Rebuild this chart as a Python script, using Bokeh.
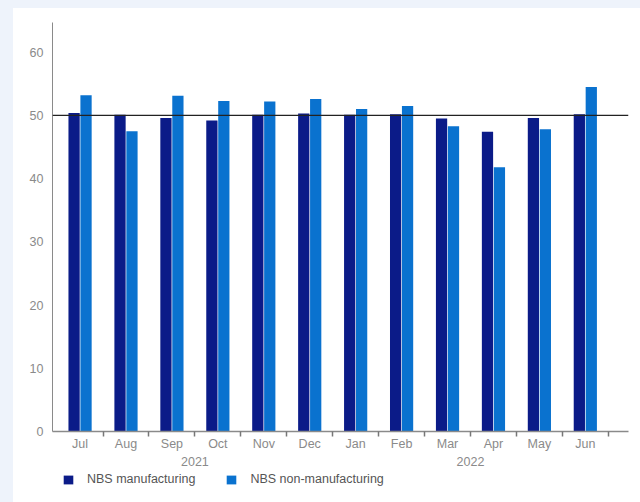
from bokeh.plotting import figure
from bokeh.layouts import column
from bokeh.models import Range1d, FixedTicker, LinearAxis, Span, Legend, LegendItem, ColumnDataSource
from bokeh.embed import file_html
from bokeh.resources import INLINE

months = ["Jul", "Aug", "Sep", "Oct", "Nov", "Dec", "Jan", "Feb", "Mar", "Apr", "May", "Jun"]
years = ["2021", "2022"]
year_centers = [2.5, 8.5]
manufacturing = [50.4, 50.1, 49.6, 49.2, 50.1, 50.3, 50.1, 50.2, 49.5, 47.4, 49.6, 50.2]
non_manufacturing = [53.2, 47.5, 53.1, 52.3, 52.2, 52.6, 51.0, 51.5, 48.3, 41.8, 47.8, 54.5]
series_names = ["NBS manufacturing", "NBS non-manufacturing"]
y_ticks = [0, 10, 20, 30, 40, 50, 60]
threshold = 50

FONT = "Liberation Sans"
DARK = "#0b1b88"
LIGHT = "#0a72cf"

idx = list(range(len(months)))
src = ColumnDataSource(dict(
    x_m=[i - 0.13 for i in idx],
    x_n=[i + 0.13 for i in idx],
    m=manufacturing,
    n=non_manufacturing,
))

p = figure(width=627, height=460,
           x_range=Range1d(-0.6, 11.94), y_range=Range1d(0, 64.7),
           output_backend="svg", toolbar_location=None,
           x_axis_location=None, y_axis_location=None,
           min_border_left=39, min_border_right=12,
           min_border_top=14, min_border_bottom=37)
p.outline_line_color = None
p.grid.visible = False
p.background_fill_color = "white"
p.border_fill_color = "white"
p.styles = {"background-color": "white"}

r1 = p.vbar(x="x_m", top="m", width=0.245, source=src, fill_color=DARK, line_color=None)
r2 = p.vbar(x="x_n", top="n", width=0.245, source=src, fill_color=LIGHT, line_color=None)

p.add_layout(Span(location=threshold, dimension="width", line_color="#222222", line_width=1.3))

yaxis = LinearAxis(ticker=FixedTicker(ticks=y_ticks))
yaxis.major_tick_out = 0
yaxis.major_tick_in = 0
yaxis.minor_tick_line_color = None
yaxis.axis_line_color = "#8a8a8a"
yaxis.major_label_standoff = 9
yaxis.major_label_text_color = "#8a8a8a"
yaxis.major_label_text_font = FONT
yaxis.major_label_text_font_size = "12.5px"
p.add_layout(yaxis, "left")

xaxis = LinearAxis(ticker=FixedTicker(ticks=idx, minor_ticks=[i + 0.5 for i in idx]))
xaxis.major_label_overrides = {i: m for i, m in zip(idx, months)}
xaxis.major_tick_out = 0
xaxis.major_tick_in = 0
xaxis.minor_tick_out = 5
xaxis.minor_tick_in = 0
xaxis.minor_tick_line_color = "#777777"
xaxis.minor_tick_line_width = 1.5
xaxis.axis_line_color = "#8a8a8a"
xaxis.axis_line_width = 1.5
xaxis.major_label_standoff = 0
xaxis.major_label_text_color = "#8a8a8a"
xaxis.major_label_text_font = FONT
xaxis.major_label_text_font_size = "12.5px"
p.add_layout(xaxis, "below")

yr = LinearAxis(ticker=FixedTicker(ticks=year_centers))
yr.major_label_overrides = {c: y for c, y in zip(year_centers, years)}
yr.axis_line_color = None
yr.major_tick_line_color = None
yr.minor_tick_line_color = None
yr.major_tick_out = 0
yr.major_tick_in = 0
yr.major_label_standoff = 3
yr.major_label_text_color = "#8a8a8a"
yr.major_label_text_font = FONT
yr.major_label_text_font_size = "12.5px"
p.add_layout(yr, "below")

# legend strip (frame aligned with the chart's frame by the column layout)
lg = figure(width=627, height=34, x_range=Range1d(0, 1), y_range=Range1d(0, 1),
            output_backend="svg", toolbar_location=None,
            x_axis_location=None, y_axis_location=None,
            min_border_left=39, min_border_right=12, min_border_top=0, min_border_bottom=0)
lg.outline_line_color = None
lg.grid.visible = False
lg.background_fill_color = "white"
lg.border_fill_color = "white"
lg.styles = {"background-color": "white"}
# zero-height placeholder bars: invisible, only give the legend its swatches
dummy = ColumnDataSource(dict(x=[0.5], top=[0]))
d1 = lg.vbar(x="x", top="top", bottom=0, width=0.01, source=dummy, fill_color=DARK, line_color=None)
d2 = lg.vbar(x="x", top="top", bottom=0, width=0.01, source=dummy, fill_color=LIGHT, line_color=None)

legend = Legend(items=[LegendItem(label=series_names[0], renderers=[d1]),
                       LegendItem(label=series_names[1], renderers=[d2])],
                orientation="horizontal", location=(10, 16))
legend.border_line_color = None
legend.background_fill_alpha = 0
legend.margin = 0
legend.padding = 4
legend.glyph_width = 12
legend.glyph_height = 11
legend.label_standoff = 13
legend.spacing = 30
legend.label_text_font = FONT
legend.label_text_font_size = "12.5px"
legend.label_text_color = "#555555"
lg.add_layout(legend, "center")

layout = column(p, lg, spacing=0)
layout.styles = {"background-color": "white"}

html = file_html(layout, INLINE)
html = html.replace("</head>", "<style>html,body{margin:0;background:#eef3fb;}body{padding:8px 0 0 13px;}</style></head>", 1)
open("out.html", "w").write(html)
